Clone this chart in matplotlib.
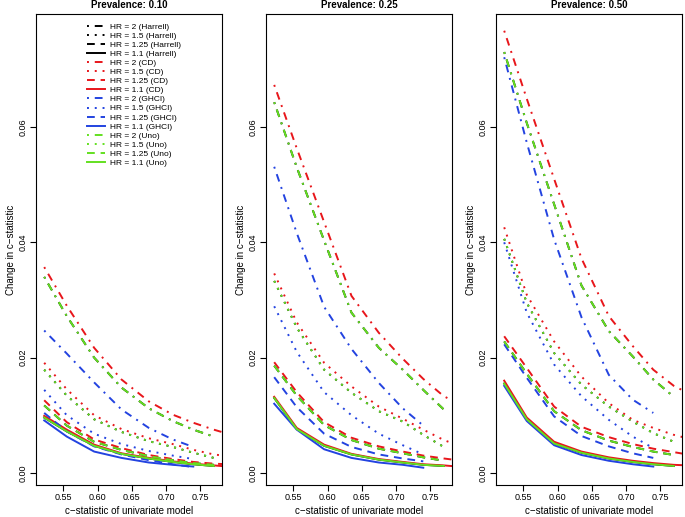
import matplotlib
matplotlib.use("Agg")
import matplotlib.pyplot as plt

plt.rcParams['font.family'] = ['Liberation Sans', 'DejaVu Sans']

# c-statistic of univariate model (x positions)
c_uni = [0.522, 0.555, 0.595, 0.635, 0.675, 0.71, 0.74, 0.77, 0.79]

prevalences = ["0.10", "0.25", "0.50"]
hr_labels = ["2", "1.5", "1.25", "1.1"]
methods = ["Harrell", "CD", "GHCI", "Uno"]

# change in c-statistic, rows = HR 2, 1.5, 1.25, 1.1
cd_p10 = [[0.0357, 0.0290, 0.0217, 0.0162, 0.0124, 0.0101, 0.0087, 0.0075, 0.0068],
          [0.0191, 0.0145, 0.0100, 0.0076, 0.0060, 0.0050, 0.0040, 0.0032, 0.0029],
          [0.0126, 0.0088, 0.0058, 0.0043, 0.0031, 0.0024, 0.0019, 0.0016, 0.0015],
          [0.0099, 0.0075, 0.0049, 0.0034, 0.0026, 0.0020, 0.0016, 0.0013, 0.0011]]
uno_p10 = [[0.0340, 0.0272, 0.0200, 0.0148, 0.0112, 0.0090, 0.0075, 0.0063],
           [0.0179, 0.0134, 0.0093, 0.0071, 0.0055, 0.0045, 0.0035, 0.0026],
           [0.0117, 0.0082, 0.0054, 0.0040, 0.0029, 0.0022, 0.0017, 0.0014],
           [0.0096, 0.0072, 0.0047, 0.0033, 0.0025, 0.0019, 0.0015, 0.0012]]
ghci_p10 = [[0.0247, 0.0207, 0.0157, 0.0110, 0.0078, 0.0058, 0.0045],
            [0.0144, 0.0100, 0.0068, 0.0050, 0.0038, 0.0030, 0.0024],
            [0.0104, 0.0072, 0.0046, 0.0032, 0.0022, 0.0015, 0.0010],
            [0.0091, 0.0063, 0.0037, 0.0026, 0.0018, 0.0014, 0.0011]]

cd_p25 = [[0.0673, 0.0563, 0.0435, 0.0307, 0.0243, 0.0198, 0.0163, 0.0133, 0.0121],
          [0.0346, 0.0261, 0.0191, 0.0150, 0.0115, 0.0094, 0.0075, 0.0057, 0.0048],
          [0.0192, 0.0140, 0.0088, 0.0061, 0.0046, 0.0037, 0.0030, 0.0025, 0.0022],
          [0.0132, 0.0078, 0.0049, 0.0033, 0.0024, 0.0019, 0.0015, 0.0013, 0.0011]]
uno_p25 = [[0.0643, 0.0530, 0.0403, 0.0278, 0.0217, 0.0179, 0.0144, 0.0110],
           [0.0333, 0.0252, 0.0179, 0.0139, 0.0107, 0.0089, 0.0066, 0.0045],
           [0.0186, 0.0134, 0.0083, 0.0057, 0.0042, 0.0034, 0.0027, 0.0021],
           [0.0130, 0.0076, 0.0047, 0.0032, 0.0023, 0.0018, 0.0014, 0.0012]]
ghci_p25 = [[0.0531, 0.0416, 0.0288, 0.0215, 0.0156, 0.0112, 0.0082],
            [0.0289, 0.0210, 0.0140, 0.0100, 0.0068, 0.0048, 0.0032],
            [0.0166, 0.0114, 0.0068, 0.0045, 0.0032, 0.0025, 0.0020],
            [0.0120, 0.0075, 0.0041, 0.0026, 0.0018, 0.0014, 0.0009]]

cd_p50 = [[0.0767, 0.0649, 0.0510, 0.0372, 0.0272, 0.0220, 0.0179, 0.0151, 0.0139],
          [0.0426, 0.0309, 0.0228, 0.0167, 0.0121, 0.0092, 0.0078, 0.0066, 0.0060],
          [0.0237, 0.0182, 0.0115, 0.0080, 0.0062, 0.0050, 0.0042, 0.0036, 0.0032],
          [0.0160, 0.0096, 0.0054, 0.0037, 0.0027, 0.0021, 0.0017, 0.0014, 0.0013]]
uno_p50 = [[0.0730, 0.0607, 0.0466, 0.0325, 0.0246, 0.0202, 0.0162, 0.0132],
           [0.0406, 0.0295, 0.0208, 0.0153, 0.0115, 0.0089, 0.0069, 0.0054],
           [0.0228, 0.0172, 0.0107, 0.0074, 0.0056, 0.0045, 0.0037, 0.0031],
           [0.0155, 0.0093, 0.0051, 0.0035, 0.0025, 0.0019, 0.0015, 0.0012]]
ghci_p50 = [[0.0721, 0.0573, 0.0405, 0.0270, 0.0170, 0.0127, 0.0104],
            [0.0400, 0.0278, 0.0188, 0.0133, 0.0092, 0.0063, 0.0043],
            [0.0223, 0.0165, 0.0098, 0.0064, 0.0046, 0.0034, 0.0026],
            [0.0151, 0.0090, 0.0048, 0.0031, 0.0021, 0.0015, 0.0011]]

# Harrell curves lie underneath the Uno curves
harrell_p10 = uno_p10
harrell_p25 = uno_p25
harrell_p50 = uno_p50

panels = [[harrell_p10, cd_p10, ghci_p10, uno_p10],
          [harrell_p25, cd_p25, ghci_p25, uno_p25],
          [harrell_p50, cd_p50, ghci_p50, uno_p50]]

colors = ["black", "#e8161b", "#2343e0", "#63e020"]
styles = [(0, (1, 3, 4, 3)), (0, (1, 3)), (0, (4, 3)), "-"]

fig = plt.figure(figsize=(6.85, 5.17), dpi=100)
lefts = [36 / 685, 266 / 685, 496 / 685]

for p, left in enumerate(lefts):
    ax = fig.add_axes([left, 1 - 485 / 517, 186 / 685, 471 / 517])
    for m, method in enumerate(methods):
        for h, hr in enumerate(hr_labels):
            ys = panels[p][m][h]
            ax.plot(c_uni[:len(ys)], ys, color=colors[m], linestyle=styles[h],
                    linewidth=1.4, label="HR = %s (%s)" % (hr, method))
    ax.set_xlim(0.510, 0.782)
    ax.set_ylim(-0.0021, 0.0796)
    ax.set_xticks([0.55, 0.60, 0.65, 0.70, 0.75])
    ax.set_xticklabels(["0.55", "0.60", "0.65", "0.70", "0.75"])
    ax.set_yticks([0.00, 0.02, 0.04, 0.06])
    ax.set_yticklabels(["0.00", "0.02", "0.04", "0.06"], rotation=90, va="center")
    ax.tick_params(labelsize=6.5, length=4, width=0.8, pad=2)
    for s in ax.spines.values():
        s.set_linewidth(0.8)
    ax.set_title("Prevalence: " + prevalences[p], fontsize=7, fontweight="bold", pad=4)
    ax.set_xlabel("c\u2212statistic of univariate model", fontsize=7, labelpad=3)
    ax.set_ylabel("Change in c\u2212statistic", fontsize=7, labelpad=2)
    if p == 0:
        ax.legend(loc="upper left", bbox_to_anchor=(0.25, 0.99), frameon=False,
                  fontsize=6, labelspacing=0.15, handlelength=2.2, handletextpad=0.6,
                  borderpad=0)

fig.savefig("out.png", dpi=100)
